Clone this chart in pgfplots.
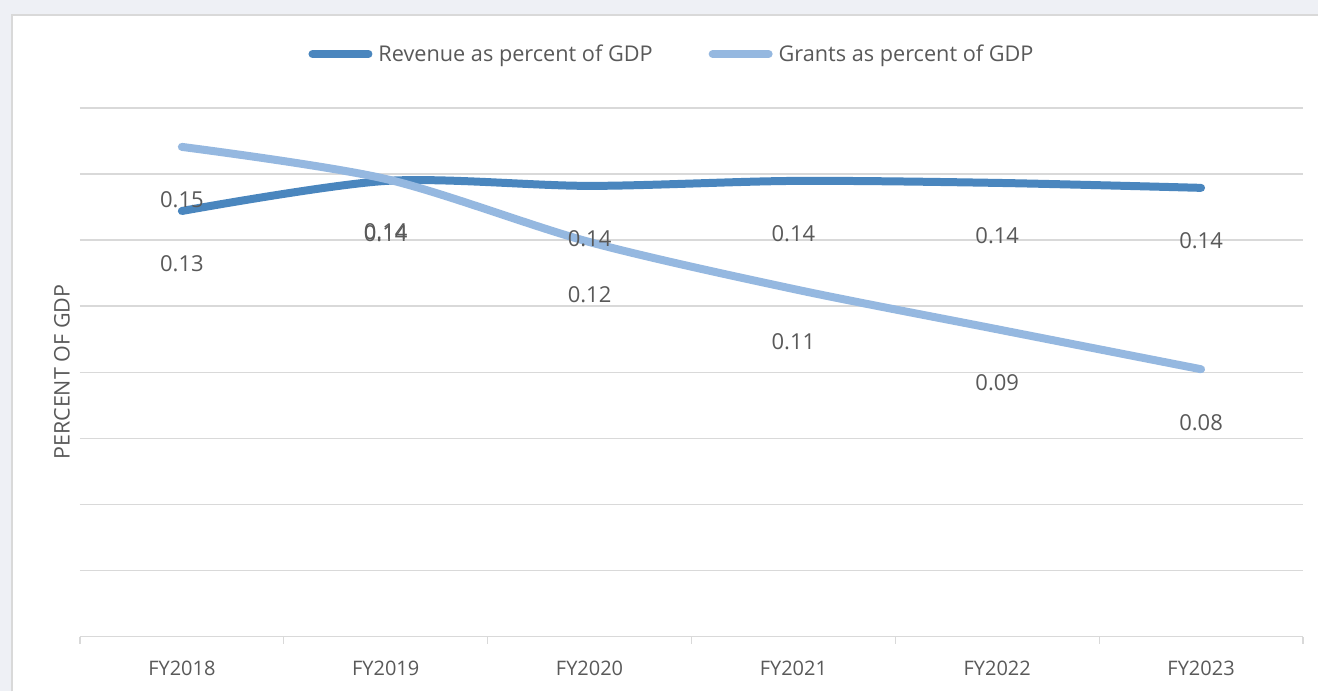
\documentclass[border=0pt]{standalone}
\usepackage{fontspec}
\setmainfont{Open Sans}
\usepackage{pgfplots}
\pgfplotsset{compat=1.18}
\definecolor{bgc}{HTML}{EEF0F5}
\definecolor{brd}{HTML}{D9D9D9}
\definecolor{grd}{HTML}{D9D9D9}
\definecolor{txt}{HTML}{595959}
\definecolor{rev}{HTML}{4A86BE}
\definecolor{gra}{HTML}{95B8E0}
\begin{document}
\begin{tikzpicture}[x=1pt,y=1pt]
\fill[bgc] (0,0) rectangle (1319,692);
\fill[white] (12,0) rectangle (1319,677);
\draw[brd, line width=2pt] (12,0) -- (12,677) -- (1319,677);
\begin{axis}[
  at={(80pt,55pt)}, anchor=south west,
  scale only axis, width=1224pt, height=529pt,
  xmin=-0.5, xmax=5.5, ymin=0, ymax=0.16,
  axis x line*=bottom, axis y line*=left,
  x axis line style={grd, line width=1.3pt},
  y axis line style={draw=none},
  xtick={-0.5,0.5,1.5,2.5,3.5,4.5,5.5},
  x tick label as interval,
  xticklabels={FY2018,FY2019,FY2020,FY2021,FY2022,FY2023},
  tick align=outside, major tick length=7pt,
  x tick style={grd, line width=1.3pt},
  y tick style={draw=none},
  xticklabel style={font=\fontsize{20}{24}\selectfont, text=txt, yshift=-14pt},
  ytick={0,0.02,...,0.16},
  ymajorgrids, grid style={grd, line width=1.3pt},
  yticklabels={},
  ylabel={PERCENT OF GDP},
  ylabel style={at={(axis description cs:-0.0147,0.5)}, anchor=center, font=\fontsize{21.5}{25}\selectfont, text=txt},
  legend columns=2,
  legend style={draw=none, fill=none, at={(0.4841,1.102)}, anchor=center,
    font=\fontsize{21.7}{26}\selectfont, text=txt,
    /tikz/every even column/.append style={column sep=54pt}},
  legend image code/.code={\draw[#1, line cap=round] (0pt,0pt) -- (56pt,0pt); \path (60pt,0pt);},
  nodes near coords,
  every node near coord/.append style={font=\fontsize{22}{26}\selectfont, text=txt, anchor=center, yshift=-53pt},
  /pgf/number format/.cd, fixed, precision=2, fixed zerofill, assume math mode=true,
]
\addplot[rev, line width=8pt, line cap=round, smooth, tension=0.5] coordinates {
 (0,0.1288) (1,0.1379) (2,0.1364) (3,0.1379) (4,0.1373) (5,0.1358)};
\addlegendentry{Revenue as percent of GDP}
\addplot[gra, line width=8pt, line cap=round, smooth, tension=0.5] coordinates {
 (0,0.1482) (1,0.1385) (2,0.1194) (3,0.1052) (4,0.0930) (5,0.0809)};
\addlegendentry{Grants as percent of GDP}
\end{axis}
\end{tikzpicture}
\end{document}
